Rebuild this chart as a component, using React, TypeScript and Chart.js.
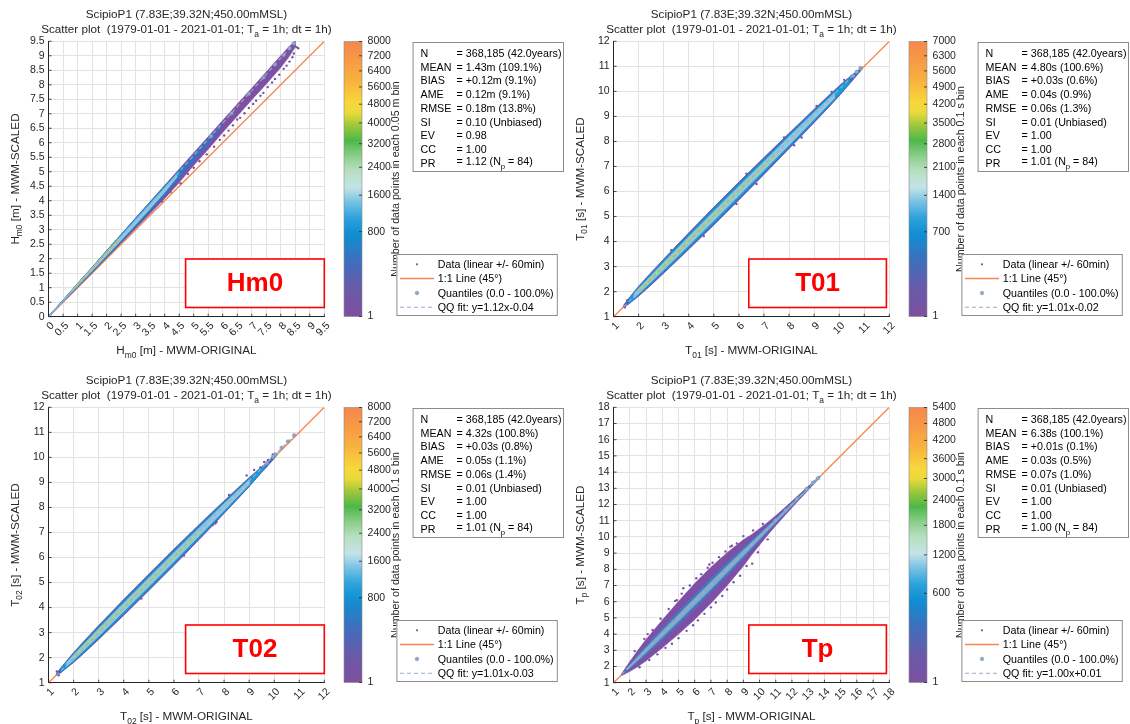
import React, { useEffect, useRef } from 'react';
import { Chart, registerables } from 'chart.js';

Chart.register(...registerables);

const FONT = '"Liberation Sans", Arial, Helvetica, sans-serif';
const TXT = '#262626';

// ---------------- shared text ----------------
const statLabels = ['N', 'MEAN', 'BIAS', 'AME', 'RMSE', 'SI', 'EV', 'CC', 'PR'];
const titleLine1 = 'ScipioP1 (7.83E;39.32N;450.00mMSL)';
const legendTexts = ['Data (linear +/- 60min)', '1:1 Line (45\u00b0)', 'Quantiles (0.0 - 100.0%)'];

// ---------------- Hm0 ----------------
const hm0Stats = ['= 368,185 (42.0years)', '= 1.43m (109.1%)', '= +0.12m (9.1%)', '= 0.12m (9.1%)', '= 0.18m (13.8%)', '= 0.10 (Unbiased)', '= 0.98', '= 1.00', '= 1.12 (N_p = 84)'];
const hm0CbarTicks = [1, 800, 1600, 2400, 3200, 4000, 4800, 5600, 6400, 7200, 8000];
const hm0Diag = [0, 9.5];
const hm0BandX = [0, 0.5, 1, 1.5, 2, 2.5, 3, 3.5, 4, 4.5, 5, 5.5, 6, 6.5, 7, 7.5, 8, 8.25, 8.5];
const hm0PurpleHi = [0.02, 0.58, 1.15, 1.71, 2.28, 2.84, 3.41, 3.97, 4.53, 5.09, 5.65, 6.21, 6.77, 7.33, 7.88, 8.44, 9.0, 9.28, 9.52];
const hm0PurpleLo = [0, 0.51, 1.02, 1.52, 2.03, 2.54, 3.05, 3.56, 4.08, 4.63, 5.22, 5.78, 6.36, 6.92, 7.48, 8.03, 8.6, 8.92, 9.3];
const hm0BlueX = [0, 0.5, 1, 1.5, 2, 2.5, 3, 3.5, 4, 4.5, 5, 5.5, 6];
const hm0BlueHi = [0.02, 0.57, 1.14, 1.7, 2.27, 2.83, 3.39, 3.95, 4.51, 5.06, 5.6, 6.14, 6.68];
const hm0BlueLo = [0.01, 0.52, 1.03, 1.54, 2.05, 2.57, 3.09, 3.63, 4.18, 4.78, 5.36, 5.95, 6.6];
const hm0CyanX = [0, 0.5, 1, 1.5, 2, 2.5, 3, 3.5, 4, 4.5];
const hm0CyanHi = [0.02, 0.57, 1.14, 1.7, 2.27, 2.83, 3.39, 3.95, 4.5, 5.02];
const hm0CyanLo = [0, 0.53, 1.05, 1.57, 2.1, 2.63, 3.16, 3.71, 4.27, 4.88];
const hm0LightX = [0, 0.5, 1, 1.5, 2, 2.5, 3, 3.5, 4, 4.4];
const hm0LightHi = [0.01, 0.56, 1.12, 1.67, 2.23, 2.78, 3.34, 3.89, 4.44, 4.9];
const hm0LightLo = [0, 0.53, 1.06, 1.58, 2.11, 2.64, 3.18, 3.73, 4.29, 4.79];
const hm0GreenX = [0.8, 1.2, 1.6, 2.0, 2.4];
const hm0GreenHi = [0.9, 1.35, 1.8, 2.24, 2.68];
const hm0GreenLo = [0.87, 1.3, 1.74, 2.17, 2.6];
const hm0DotX = [4.55, 4.8, 5.0, 5.2, 5.45, 5.7, 5.9, 6.05, 6.2, 6.35, 6.5, 6.6, 6.75, 6.9, 7.05, 7.15, 7.3, 7.4, 7.55, 7.7, 7.8, 7.95, 8.1, 8.2, 8.3, 8.4, 8.45, 8.55, 8.6, 3.9, 4.2];
const hm0DotY = [4.6, 4.92, 5.14, 5.36, 5.6, 5.86, 6.1, 6.25, 6.42, 6.6, 6.8, 6.86, 7.02, 7.2, 7.34, 7.45, 7.62, 7.72, 7.92, 8.08, 8.2, 8.35, 8.55, 8.66, 8.8, 8.95, 9.08, 9.3, 9.26, 3.98, 4.3];
const hm0QuantX = [5.6, 6.3, 6.9, 7.4, 7.8, 8.1, 8.3, 8.45];
const hm0QuantY = [6.23, 7.02, 7.69, 8.25, 8.7, 9.03, 9.26, 9.43];
const hm0QQX = [0.05, 8.5];
const hm0QQY = [0.02, 9.48];

// ---------------- T01 ----------------
const t01Stats = ['= 368,185 (42.0years)', '= 4.80s (100.6%)', '= +0.03s (0.6%)', '= 0.04s (0.9%)', '= 0.06s (1.3%)', '= 0.01 (Unbiased)', '= 1.00', '= 1.00', '= 1.01 (N_p = 84)'];
const t01CbarTicks = [1, 700, 1400, 2100, 2800, 3500, 4200, 4900, 5600, 6300, 7000];
const t01Diag = [1, 12];
const t01X = [1.4, 1.6, 2, 2.5, 3, 3.5, 4, 5, 6, 7, 8, 8.5, 9, 9.5, 10, 10.3, 10.6, 10.8, 10.9];
const t01PurpleHi = [1.46, 1.73, 2.22, 2.77, 3.3, 3.83, 4.35, 5.38, 6.38, 7.36, 8.33, 8.81, 9.29, 9.76, 10.22, 10.48, 10.72, 10.87, 10.94];
const t01PurpleLo = [1.38, 1.5, 1.82, 2.27, 2.74, 3.21, 3.69, 4.66, 5.66, 6.68, 7.71, 8.23, 8.75, 9.28, 9.82, 10.16, 10.52, 10.75, 10.88];
const t01BlueHi = [1.45, 1.71, 2.19, 2.74, 3.27, 3.8, 4.32, 5.35, 6.35, 7.33, 8.3, 8.78, 9.26, 9.74, 10.2, 10.46, 10.71, 10.86, 10.93];
const t01BlueLo = [1.39, 1.52, 1.85, 2.3, 2.77, 3.24, 3.72, 4.69, 5.69, 6.71, 7.74, 8.26, 8.78, 9.3, 9.84, 10.18, 10.53, 10.76, 10.89];
const t01CyanX = [1.6, 2, 3, 4, 5, 6, 7, 8, 9, 10, 10.4];
const t01CyanHi = [1.71, 2.17, 3.23, 4.27, 5.29, 6.29, 7.27, 8.25, 9.22, 10.17, 10.53];
const t01CyanLo = [1.53, 1.87, 2.81, 3.77, 4.75, 5.75, 6.77, 7.79, 8.82, 9.87, 10.31];
const t01LightX = [1.8, 2, 3, 4, 5, 6, 7, 8, 9, 9.8];
const t01LightHi = [1.9, 2.12, 3.16, 4.19, 5.2, 6.2, 7.19, 8.18, 9.15, 9.92];
const t01LightLo = [1.74, 1.92, 2.88, 3.85, 4.84, 5.84, 6.85, 7.86, 8.89, 9.72];
const t01GreenX = [2, 3, 4, 5, 6, 7, 7.5];
const t01GreenHi = [2.07, 3.08, 4.08, 5.08, 6.07, 7.06, 7.54];
const t01GreenLo = [1.99, 2.98, 3.98, 4.98, 5.99, 6.99, 7.5];
const t01DotX = [1.45, 1.55, 3.3, 4.6, 5.9, 6.3, 6.7, 7.8, 8.2, 8.5, 9.1, 9.7, 10.2, 10.5];
const t01DotY = [1.38, 1.66, 3.66, 4.22, 5.5, 6.71, 6.3, 8.16, 7.85, 8.16, 9.42, 9.98, 10.46, 10.62];
const t01QuantX = [10.55, 10.7, 10.85];
const t01QuantY = [10.62, 10.78, 10.93];
const t01QQX = [1.4, 10.9];
const t01QQY = [1.39, 10.99];

// ---------------- T02 ----------------
const t02Stats = ['= 368,185 (42.0years)', '= 4.32s (100.8%)', '= +0.03s (0.8%)', '= 0.05s (1.1%)', '= 0.06s (1.4%)', '= 0.01 (Unbiased)', '= 1.00', '= 1.00', '= 1.01 (N_p = 84)'];
const t02CbarTicks = [1, 800, 1600, 2400, 3200, 4000, 4800, 5600, 6400, 7200, 8000];
const t02Diag = [1, 12];
const t02X = [1.3, 1.5, 2, 2.5, 3, 4, 5, 6, 7, 7.5, 8, 8.5, 9, 9.3, 9.6, 9.9, 10.1];
const t02PurpleHi = [1.34, 1.61, 2.21, 2.76, 3.29, 4.33, 5.34, 6.34, 7.31, 7.79, 8.26, 8.73, 9.19, 9.45, 9.71, 9.98, 10.14];
const t02PurpleLo = [1.28, 1.41, 1.81, 2.26, 2.73, 3.69, 4.68, 5.68, 6.71, 7.23, 7.76, 8.29, 8.83, 9.17, 9.51, 9.84, 10.08];
const t02BlueHi = [1.33, 1.6, 2.19, 2.74, 3.26, 4.3, 5.31, 6.31, 7.28, 7.76, 8.24, 8.71, 9.17, 9.43, 9.7, 9.97, 10.13];
const t02BlueLo = [1.29, 1.42, 1.83, 2.28, 2.76, 3.72, 4.71, 5.71, 6.74, 7.26, 7.78, 8.31, 8.85, 9.19, 9.52, 9.85, 10.09];
const t02CyanX = [1.5, 2, 3, 4, 5, 6, 7, 8, 9, 9.6];
const t02CyanHi = [1.59, 2.16, 3.22, 4.25, 5.26, 6.26, 7.24, 8.2, 9.15, 9.69];
const t02CyanLo = [1.43, 1.86, 2.8, 3.77, 4.76, 5.76, 6.78, 7.82, 8.87, 9.53];
const t02LightX = [1.7, 2, 3, 4, 5, 6, 7, 8, 9];
const t02LightHi = [1.78, 2.11, 3.15, 4.17, 5.18, 6.18, 7.16, 8.14, 9.1];
const t02LightLo = [1.64, 1.91, 2.87, 3.85, 4.84, 5.84, 6.86, 7.88, 8.92];
const t02GreenX = [2, 3, 4, 5, 6, 7];
const t02GreenHi = [2.06, 3.07, 4.08, 5.08, 6.07, 7.06];
const t02GreenLo = [1.99, 2.99, 4.0, 5.0, 5.99, 6.99];
const t02DotX = [1.33, 1.4, 4.7, 6.4, 7.55, 7.65, 7.7, 8.2, 8.9, 9.2, 9.45, 9.6, 9.75, 9.95];
const t02DotY = [1.45, 1.3, 4.36, 6.08, 7.3, 7.36, 7.42, 8.5, 9.28, 9.5, 9.6, 9.82, 9.9, 10.12];
const t02QuantX = [9.7, 9.95, 10.05, 10.3, 10.55, 10.8];
const t02QuantY = [9.77, 10.02, 10.12, 10.38, 10.63, 10.88];
const t02QQX = [1.3, 10.9];
const t02QQY = [1.28, 10.98];

// ---------------- Tp ----------------
const tpStats = ['= 368,185 (42.0years)', '= 6.38s (100.1%)', '= +0.01s (0.1%)', '= 0.03s (0.5%)', '= 0.07s (1.0%)', '= 0.01 (Unbiased)', '= 1.00', '= 1.00', '= 1.00 (N_p = 84)'];
const tpCbarTicks = [1, 600, 1200, 1800, 2400, 3000, 3600, 4200, 4800, 5400];
const tpDiag = [1, 18];
const tpBandX = [1.5, 2, 2.5, 3, 4, 5, 6, 7, 8, 9, 9.5, 10, 10.5, 11, 11.5, 12, 12.5, 13, 13.4, 13.7];
const tpPurpleHi = [1.56, 2.3, 3.0, 3.66, 4.86, 6.02, 7.12, 8.12, 9.02, 9.82, 10.13, 10.51, 10.89, 11.31, 11.75, 12.2, 12.66, 13.12, 13.48, 13.74];
const tpPurpleLo = [1.44, 1.7, 2.0, 2.35, 3.15, 4.0, 4.9, 5.9, 7.0, 8.2, 8.88, 9.5, 10.12, 10.7, 11.26, 11.81, 12.35, 12.89, 13.33, 13.67];
const tpBlueHi = [1.54, 2.13, 2.72, 3.28, 4.36, 5.41, 6.43, 7.43, 8.4, 9.34, 9.79, 10.24, 10.7, 11.16, 11.63, 12.1, 12.58, 13.06, 13.44, 13.72];
const tpBlueLo = [1.46, 1.87, 2.28, 2.72, 3.64, 4.59, 5.57, 6.57, 7.6, 8.66, 9.21, 9.76, 10.3, 10.84, 11.37, 11.9, 12.42, 12.94, 13.36, 13.68];
const tpLightX = [1.8, 2, 3, 4, 5, 6, 7, 8, 9, 10, 11, 12, 13];
const tpLightHi = [1.83, 2.06, 3.14, 4.18, 5.2, 6.21, 7.21, 8.2, 9.17, 10.13, 11.09, 12.06, 13.03];
const tpLightLo = [1.77, 1.94, 2.86, 3.82, 4.8, 5.79, 6.79, 7.8, 8.83, 9.87, 10.91, 11.94, 12.97];
const tpDotX = [2.3, 2.6, 2.9, 3.2, 3.4, 3.7, 3.9, 4.2, 4.4, 4.6, 4.8, 5.0, 5.2, 5.3, 5.5, 5.7, 5.9, 6.1, 6.2, 6.4, 6.6, 6.8, 7.0, 7.1, 7.3, 7.5, 7.7, 7.9, 8.0, 8.2, 8.4, 8.6, 8.8, 9.0, 9.2, 9.55, 9.6, 9.9, 10.2, 10.5, 3.1, 4.9, 6.9, 8.3];
const tpDotY = [2.95, 1.95, 3.7, 2.4, 4.25, 2.75, 4.95, 3.15, 5.55, 3.4, 6.05, 3.75, 6.5, 6.83, 4.2, 7.0, 4.55, 7.45, 4.85, 7.7, 5.25, 8.1, 5.65, 8.4, 5.95, 8.75, 6.35, 9.1, 6.75, 9.4, 7.2, 9.6, 7.6, 10.05, 8.2, 8.35, 10.4, 9.05, 10.8, 9.85, 4.0, 6.1, 8.3, 9.45];
const tpQuantX = [11.0, 11.6, 12.3, 12.9, 13.3, 13.6];
const tpQuantY = [11.02, 11.62, 12.35, 12.95, 13.35, 13.62];
const tpQQX = [1.5, 13.7];
const tpQQY = [1.51, 13.71];

// ---------------- colours ----------------
const C_ORANGE = '#f5874e';
const C_PURPLE = '#7d50a5';
const C_BLUE = '#3b6fbf';
const C_CYAN = '#1d9bd7';
const C_LIGHT = '#93c6df';
const C_GREEN = '#b2d46c';
const C_QQ = '#97aecb';
const C_QUANT = '#8ea8c6';
const cmapStops: [number, string][] = [
  [0, '#7e4f9f'], [0.1, '#6a5aa9'], [0.2, '#3f6ebd'], [0.3, '#0f8fd3'], [0.36, '#2ea3dc'],
  [0.42, '#7cc4e4'], [0.47, '#c4e3e6'], [0.53, '#b7dfc1'], [0.58, '#8fd08e'], [0.64, '#4db848'],
  [0.7, '#a6c93c'], [0.74, '#e9da3a'], [0.78, '#f8d63c'], [0.86, '#f8b13f'], [0.93, '#f79a45'], [1, '#f6874d'],
];

type Pt = { x: number; y: number };
type Seg = [string, boolean];
const pts = (xs: number[], ys: number[]): Pt[] => xs.map((x, i) => ({ x, y: ys[i] }));
const polygon = (xs: number[], lo: number[], hi: number[]): Pt[] => [...pts(xs, hi), ...pts(xs, lo).reverse()];

interface PanelCfg {
  ox: number; oy: number;
  min: number; max: number; step: number;
  sym: Seg[]; unit: string;
  cbarTicks: number[]; cbarTitle: string;
  stats: string[]; qq: string; tag: string;
  redX: [number, number];
  bands: { poly: Pt[]; color: string }[];
  dots: Pt[]; quant: Pt[]; qqLine: Pt[]; diag: Pt[];
}

const panels: PanelCfg[] = [
  {
    ox: 0, oy: 0, min: 0, max: 9.5, step: 0.5, sym: [['H', false], ['m0', true]], unit: ' [m]',
    cbarTicks: hm0CbarTicks, cbarTitle: 'Number of data points in each 0.05 m bin',
    stats: hm0Stats, qq: 'QQ fit: y=1.12x-0.04', tag: 'Hm0', redX: [185.6, 324.3],
    bands: [
      { poly: polygon(hm0BandX, hm0PurpleLo, hm0PurpleHi), color: C_PURPLE },
      { poly: polygon(hm0BlueX, hm0BlueLo, hm0BlueHi), color: C_BLUE },
      { poly: polygon(hm0CyanX, hm0CyanLo, hm0CyanHi), color: C_CYAN },
      { poly: polygon(hm0LightX, hm0LightLo, hm0LightHi), color: C_LIGHT },
      { poly: polygon(hm0GreenX, hm0GreenLo, hm0GreenHi), color: C_GREEN },
    ],
    dots: pts(hm0DotX, hm0DotY), quant: pts(hm0QuantX, hm0QuantY), qqLine: pts(hm0QQX, hm0QQY), diag: pts(hm0Diag, hm0Diag),
  },
  {
    ox: 565, oy: 0, min: 1, max: 12, step: 1, sym: [['T', false], ['01', true]], unit: ' [s]',
    cbarTicks: t01CbarTicks, cbarTitle: 'Number of data points in each 0.1 s bin',
    stats: t01Stats, qq: 'QQ fit: y=1.01x-0.02', tag: 'T01', redX: [183.8, 321.4],
    bands: [
      { poly: polygon(t01X, t01PurpleLo, t01PurpleHi), color: C_PURPLE },
      { poly: polygon(t01X, t01BlueLo, t01BlueHi), color: C_BLUE },
      { poly: polygon(t01CyanX, t01CyanLo, t01CyanHi), color: C_CYAN },
      { poly: polygon(t01LightX, t01LightLo, t01LightHi), color: C_LIGHT },
      { poly: polygon(t01GreenX, t01GreenLo, t01GreenHi), color: C_GREEN },
    ],
    dots: pts(t01DotX, t01DotY), quant: pts(t01QuantX, t01QuantY), qqLine: pts(t01QQX, t01QQY), diag: pts(t01Diag, t01Diag),
  },
  {
    ox: 0, oy: 366, min: 1, max: 12, step: 1, sym: [['T', false], ['02', true]], unit: ' [s]',
    cbarTicks: t02CbarTicks, cbarTitle: 'Number of data points in each 0.1 s bin',
    stats: t02Stats, qq: 'QQ fit: y=1.01x-0.03', tag: 'T02', redX: [185.6, 324.3],
    bands: [
      { poly: polygon(t02X, t02PurpleLo, t02PurpleHi), color: C_PURPLE },
      { poly: polygon(t02X, t02BlueLo, t02BlueHi), color: C_BLUE },
      { poly: polygon(t02CyanX, t02CyanLo, t02CyanHi), color: C_CYAN },
      { poly: polygon(t02LightX, t02LightLo, t02LightHi), color: C_LIGHT },
      { poly: polygon(t02GreenX, t02GreenLo, t02GreenHi), color: C_GREEN },
    ],
    dots: pts(t02DotX, t02DotY), quant: pts(t02QuantX, t02QuantY), qqLine: pts(t02QQX, t02QQY), diag: pts(t02Diag, t02Diag),
  },
  {
    ox: 565, oy: 366, min: 1, max: 18, step: 1, sym: [['T', false], ['p', true]], unit: ' [s]',
    cbarTicks: tpCbarTicks, cbarTitle: 'Number of data points in each 0.1 s bin',
    stats: tpStats, qq: 'QQ fit: y=1.00x+0.01', tag: 'Tp', redX: [183.8, 321.4],
    bands: [
      { poly: polygon(tpBandX, tpPurpleLo, tpPurpleHi), color: C_PURPLE },
      { poly: polygon(tpBandX, tpBlueLo, tpBlueHi), color: '#4876c0' },
      { poly: polygon(tpLightX, tpLightLo, tpLightHi), color: '#7eaacb' },
    ],
    dots: pts(tpDotX, tpDotY), quant: pts(tpQuantX, tpQuantY), qqLine: pts(tpQQX, tpQQY), diag: pts(tpDiag, tpDiag),
  },
];

// ---------------- geometry (panel-relative) ----------------
const PW = 565;
const PH = 358;
const CA = { left: 48.6, top: 41.3, right: 324.3, bottom: 316.7 };
const CB = { left: 344, right: 362, top: 41.5, bottom: 316.5 };
const STATS = { left: 412.6, right: 564, top: 42, bottom: 172 };
const LEG = { left: 396.4, right: 557.8, top: 254, bottom: 316 };
const RED = { top: 259, bottom: 307.5 };

function drawSegs(ctx: CanvasRenderingContext2D, segs: Seg[], x: number, y: number, size: number, align: 'left' | 'center', color: string) {
  ctx.fillStyle = color;
  ctx.textBaseline = 'alphabetic';
  ctx.textAlign = 'left';
  const subSize = size * 0.72;
  let w = 0;
  for (const [t, sub] of segs) {
    ctx.font = `${sub ? subSize : size}px ${FONT}`;
    w += ctx.measureText(t).width;
  }
  let cx = align === 'center' ? x - w / 2 : x;
  for (const [t, sub] of segs) {
    ctx.font = `${sub ? subSize : size}px ${FONT}`;
    ctx.fillText(t, cx, sub ? y + size * 0.32 : y);
    cx += ctx.measureText(t).width;
  }
}

function subParse(s: string): Seg[] {
  const i = s.indexOf('_p');
  if (i < 0) return [[s, false]];
  return [[s.slice(0, i), false], ['p', true], [s.slice(i + 2), false]];
}

function makeOverlay(cfg: PanelCfg) {
  return {
    id: 'overlay' + cfg.tag,
    afterDraw(chart: any) {
      const ctx: CanvasRenderingContext2D = chart.ctx;
      const ca = chart.chartArea;
      ctx.save();
      // inward tick marks
      ctx.strokeStyle = TXT;
      ctx.lineWidth = 0.8;
      const xs = chart.scales.x;
      const ys = chart.scales.y;
      ctx.beginPath();
      for (const t of xs.ticks) {
        const p = xs.getPixelForValue(t.value);
        ctx.moveTo(p, ca.bottom); ctx.lineTo(p, ca.bottom - 3);
      }
      for (const t of ys.ticks) {
        const p = ys.getPixelForValue(t.value);
        ctx.moveTo(ca.left, p); ctx.lineTo(ca.left + 3, p);
      }
      ctx.stroke();

      // titles
      const cx = (CA.left + CA.right) / 2;
      drawSegs(ctx, [[titleLine1, false]], cx, 17.8, 11.7, 'center', TXT);
      drawSegs(ctx, [['Scatter plot  (1979-01-01 - 2021-01-01; T', false], ['a', true], [' = 1h; dt = 1h)', false]], cx, 33, 11.7, 'center', TXT);
      // x label
      drawSegs(ctx, [...cfg.sym, [cfg.unit + ' - MWM-ORIGINAL', false]], cx, 354, 11.7, 'center', TXT);
      // y label
      ctx.save();
      ctx.translate(18.6, (CA.top + CA.bottom) / 2);
      ctx.rotate(-Math.PI / 2);
      drawSegs(ctx, [...cfg.sym, [cfg.unit + ' - MWM-SCALED', false]], 0, 0, 11.7, 'center', TXT);
      ctx.restore();

      // colorbar
      const g = ctx.createLinearGradient(0, CB.bottom, 0, CB.top);
      for (const [p, c] of cmapStops) g.addColorStop(p, c);
      ctx.fillStyle = g;
      ctx.fillRect(CB.left, CB.top, CB.right - CB.left, CB.bottom - CB.top);
      ctx.strokeStyle = '#8a8a8a';
      ctx.lineWidth = 0.6;
      ctx.strokeRect(CB.left, CB.top, CB.right - CB.left, CB.bottom - CB.top);
      const cmax = cfg.cbarTicks[cfg.cbarTicks.length - 1];
      ctx.font = `10.5px ${FONT}`;
      ctx.textAlign = 'left';
      ctx.textBaseline = 'middle';
      for (const v of cfg.cbarTicks) {
        const f = (Math.sqrt(v) - 1) / (Math.sqrt(cmax) - 1);
        const y = CB.bottom - f * (CB.bottom - CB.top);
        ctx.strokeStyle = TXT;
        ctx.lineWidth = 0.8;
        ctx.beginPath();
        ctx.moveTo(CB.right - 3, y); ctx.lineTo(CB.right, y);
        ctx.stroke();
        ctx.fillStyle = TXT;
        ctx.fillText(String(v), 367.6, y);
      }
      ctx.save();
      ctx.translate(398.8, (CB.top + CB.bottom) / 2);
      ctx.rotate(-Math.PI / 2);
      drawSegs(ctx, [[cfg.cbarTitle, false]], 0, 0, 10.7, 'center', TXT);
      ctx.restore();

      // stats box
      ctx.fillStyle = '#ffffff';
      ctx.fillRect(STATS.left, STATS.top, STATS.right - STATS.left, STATS.bottom - STATS.top);
      ctx.strokeStyle = '#8c8c8c';
      ctx.lineWidth = 1;
      ctx.strokeRect(STATS.left + 0.5, STATS.top + 0.5, STATS.right - STATS.left - 1, STATS.bottom - STATS.top - 1);
      statLabels.forEach((lab, i) => {
        const base = 53 + i * 13.75 + 3.9;
        drawSegs(ctx, [[lab, false]], 420.5, base, 10.7, 'left', '#000000');
        drawSegs(ctx, subParse(cfg.stats[i]), 456.6, base - (i === 8 ? 1.5 : 0), 10.7, 'left', '#000000');
      });

      // legend box
      ctx.fillStyle = '#ffffff';
      ctx.fillRect(LEG.left, LEG.top, LEG.right - LEG.left, LEG.bottom - LEG.top);
      ctx.strokeStyle = '#8c8c8c';
      ctx.lineWidth = 1;
      ctx.strokeRect(LEG.left + 0.5, LEG.top + 0.5, LEG.right - LEG.left - 1, LEG.bottom - LEG.top - 1);
      const rows = [264.3, 278.6, 293, 307.3];
      const texts = [...legendTexts, cfg.qq];
      texts.forEach((t, i) => drawSegs(ctx, [[t, false]], 437.8, rows[i] + 3.8, 10.7, 'left', '#000000'));
      ctx.fillStyle = C_PURPLE;
      ctx.beginPath(); ctx.arc(417, rows[0], 1.1, 0, Math.PI * 2); ctx.fill();
      ctx.strokeStyle = C_ORANGE; ctx.lineWidth = 1.5;
      ctx.beginPath(); ctx.moveTo(400, rows[1]); ctx.lineTo(434, rows[1]); ctx.stroke();
      ctx.fillStyle = C_QUANT; ctx.strokeStyle = '#7f9abb'; ctx.lineWidth = 0.6;
      ctx.beginPath(); ctx.arc(417, rows[2], 1.8, 0, Math.PI * 2); ctx.fill(); ctx.stroke();
      ctx.strokeStyle = C_QQ; ctx.lineWidth = 1.1; ctx.setLineDash([4, 3]);
      ctx.beginPath(); ctx.moveTo(400, rows[3]); ctx.lineTo(434, rows[3]); ctx.stroke();
      ctx.setLineDash([]);

      // red tag box
      const [rl, rr] = cfg.redX;
      ctx.fillStyle = '#ffffff';
      ctx.fillRect(rl, RED.top, rr - rl, RED.bottom - RED.top);
      ctx.strokeStyle = '#ff0000';
      ctx.lineWidth = 1.6;
      ctx.strokeRect(rl, RED.top, rr - rl, RED.bottom - RED.top);
      ctx.fillStyle = '#ff0000';
      ctx.font = `bold 26px ${FONT}`;
      ctx.textAlign = 'center';
      ctx.textBaseline = 'middle';
      ctx.fillText(cfg.tag, (rl + rr) / 2, (RED.top + RED.bottom) / 2 + 1);
      ctx.restore();
    },
  };
}

const fmtTick = (v: any) => String(Math.round(Number(v) * 100) / 100);

function buildConfig(cfg: PanelCfg): any {
  const datasets: any[] = [];
  datasets.push({ data: cfg.diag, borderColor: C_ORANGE, borderWidth: 1.4, pointRadius: 0, fill: false, order: 100 });
  cfg.bands.forEach((b, i) => {
    datasets.push({ data: b.poly, fill: 'shape', backgroundColor: b.color, borderColor: b.color, borderWidth: 0.7, pointRadius: 0, tension: 0, order: 90 - i * 10 });
  });
  datasets.push({ data: cfg.dots, showLine: false, pointRadius: 1.2, pointBorderWidth: 0, pointBackgroundColor: C_PURPLE, order: 35 });
  datasets.push({ data: cfg.qqLine, borderColor: C_QQ, borderWidth: 1.1, borderDash: [4, 3], pointRadius: 0, fill: false, order: 30 });
  datasets.push({ data: cfg.quant, showLine: false, pointRadius: 1.8, pointBorderWidth: 0.6, pointBackgroundColor: C_QUANT, pointBorderColor: '#7f9abb', order: 20 });

  const tickFont = { size: 10.5, family: FONT };
  return {
    type: 'line',
    data: { datasets },
    plugins: [makeOverlay(cfg)],
    options: {
      responsive: false,
      animation: false,
      devicePixelRatio: 1,
      events: [],
      layout: { padding: { left: 0, top: CA.top, right: PW - CA.right, bottom: 0 } },
      plugins: { legend: { display: false }, tooltip: { enabled: false }, title: { display: false } },
      scales: {
        x: {
          type: 'linear', min: cfg.min, max: cfg.max,
          ticks: { stepSize: cfg.step, autoSkip: false, minRotation: 45, maxRotation: 45, font: tickFont, color: TXT, padding: 3, labelOffset: 4, callback: fmtTick },
          grid: { color: '#e2e2e2', drawTicks: false, lineWidth: 1 },
          border: { display: true, color: TXT, width: 1 },
          afterFit: (s: any) => { s.height = PH - CA.bottom; },
        },
        y: {
          type: 'linear', min: cfg.min, max: cfg.max,
          ticks: { stepSize: cfg.step, autoSkip: false, font: tickFont, color: TXT, padding: 4, callback: fmtTick },
          grid: { color: '#e2e2e2', drawTicks: false, lineWidth: 1 },
          border: { display: true, color: TXT, width: 1 },
          afterFit: (s: any) => { s.width = CA.left; },
        },
      },
    },
  };
}

function Panel({ cfg }: { cfg: PanelCfg }) {
  const ref = useRef<HTMLCanvasElement>(null);
  useEffect(() => {
    if (!ref.current) return;
    const chart = new Chart(ref.current, buildConfig(cfg));
    return () => chart.destroy();
  }, [cfg]);
  return (
    <canvas
      ref={ref}
      width={PW}
      height={PH}
      style={{ position: 'absolute', left: cfg.ox, top: cfg.oy, width: PW, height: PH }}
    />
  );
}

export default function App() {
  return (
    <div style={{ position: 'fixed', left: 0, top: 0, width: 1130, height: 724, background: '#ffffff', overflow: 'hidden' }}>
      {panels.map((p) => (
        <Panel key={p.tag} cfg={p} />
      ))}
    </div>
  );
}
